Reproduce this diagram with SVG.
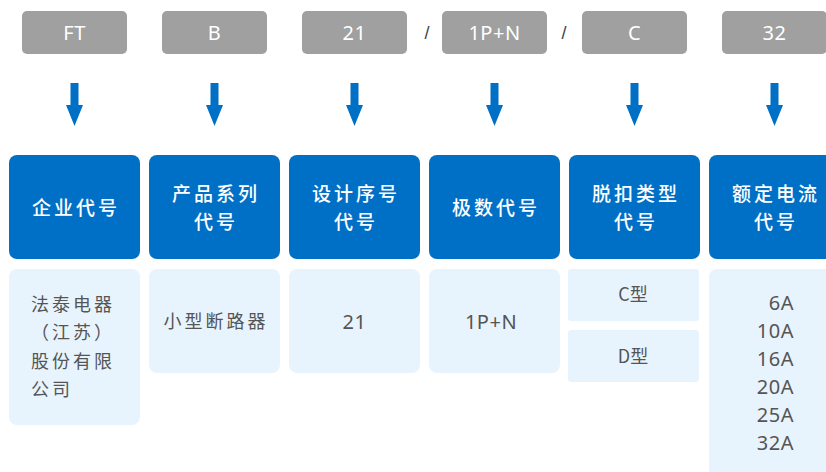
<svg xmlns="http://www.w3.org/2000/svg" width="826" height="472" viewBox="0 0 826 472">
<style>
.code rect{fill:#a0a0a0}
.code text{fill:#fff;font-family:"Noto Sans","Liberation Sans",sans-serif;font-size:20px;text-anchor:middle;letter-spacing:0.5px}
.hdr rect{fill:#0070c6}
.hdr text{fill:#fff;font-family:"Noto Sans CJK SC",sans-serif;font-size:19px;font-weight:500;text-anchor:middle;letter-spacing:3px}
.val rect{fill:#e8f4fd}
.val text{fill:#555;font-family:"Noto Sans CJK SC",sans-serif;font-size:18px;letter-spacing:3px}
.val text.n{font-family:"Noto Sans","Liberation Sans",sans-serif;font-size:20px;letter-spacing:0.5px}
.c{text-anchor:middle}
.r{text-anchor:end}
.sep{fill:#444;font-family:"Liberation Sans",sans-serif;font-size:18px}
.arr{fill:#0070c6}
</style>
<defs>
<path id="arrow" d="M-4,83 H4 V105 H8.5 L0,126 L-8.5,105 H-4 Z"/>
</defs>
<g id="code-FT" class="code"><rect x="22" y="11" width="105" height="43" rx="5"/><text x="74.5" y="40">FT</text></g>
<g id="code-B" class="code"><rect x="162" y="11" width="105" height="43" rx="5"/><text x="214.5" y="40">B</text></g>
<g id="code-21" class="code"><rect x="302" y="11" width="105" height="43" rx="5"/><text x="354.5" y="40">21</text></g>
<g id="code-1PN" class="code"><rect x="442" y="11" width="105" height="43" rx="5"/><text x="494.5" y="40">1P+N</text></g>
<g id="code-C" class="code"><rect x="582" y="11" width="105" height="43" rx="5"/><text x="634.5" y="40">C</text></g>
<g id="code-32" class="code"><rect x="722" y="11" width="105" height="43" rx="5"/><text x="774.5" y="40">32</text></g>
<text class="sep" x="427" y="39" text-anchor="middle">/</text>
<text class="sep" x="564" y="39" text-anchor="middle">/</text>
<g id="connectors" class="arr">
<use href="#arrow" x="74.5"/>
<use href="#arrow" x="214.5"/>
<use href="#arrow" x="354.5"/>
<use href="#arrow" x="494.5"/>
<use href="#arrow" x="634.5"/>
<use href="#arrow" x="774.5"/>
</g>
<g id="hdr-1" class="hdr"><rect x="9" y="155" width="131" height="104" rx="8"/><text x="76" y="214.5">企业代号</text></g>
<g id="hdr-2" class="hdr"><rect x="149" y="155" width="131" height="104" rx="8"/><text x="216" y="201">产品系列</text><text x="216" y="228.5">代号</text></g>
<g id="hdr-3" class="hdr"><rect x="289" y="155" width="131" height="104" rx="8"/><text x="356" y="201">设计序号</text><text x="356" y="228.5">代号</text></g>
<g id="hdr-4" class="hdr"><rect x="429" y="155" width="131" height="104" rx="8"/><text x="496" y="214.5">极数代号</text></g>
<g id="hdr-5" class="hdr"><rect x="569" y="155" width="131" height="104" rx="8"/><text x="636" y="201">脱扣类型</text><text x="636" y="228.5">代号</text></g>
<g id="hdr-6" class="hdr"><rect x="709" y="155" width="131" height="104" rx="8"/><text x="776" y="201">额定电流</text><text x="776" y="228.5">代号</text></g>
<g id="val-1" class="val"><rect x="9" y="269" width="131" height="156" rx="8"/>
<text x="31" y="311">法泰电器</text><text x="31" y="339">（江苏）</text><text x="31" y="368">股份有限</text><text x="31" y="396">公司</text></g>
<g id="val-2" class="val"><rect x="149" y="269" width="131" height="104" rx="8"/><text class="c" x="216" y="328">小型断路器</text></g>
<g id="val-3" class="val"><rect x="289" y="269" width="131" height="104" rx="8"/><text class="c n" x="354.5" y="329">21</text></g>
<g id="val-4" class="val"><rect x="429" y="269" width="131" height="104" rx="8"/><text class="c n" x="491" y="329">1P+N</text></g>
<g id="val-5a" class="val"><rect x="568" y="269" width="131" height="52" rx="3"/><text class="c" x="633" y="301" style="letter-spacing:0">C型</text></g>
<g id="val-5b" class="val"><rect x="568" y="330" width="131" height="52" rx="3"/><text class="c" x="633" y="363" style="letter-spacing:0">D型</text></g>
<g id="val-6" class="val"><rect x="709" y="269" width="131" height="220" rx="8"/>
<text class="r n" x="794" y="310">6A</text><text class="r n" x="794" y="338">10A</text><text class="r n" x="794" y="366">16A</text><text class="r n" x="794" y="394">20A</text><text class="r n" x="794" y="422">25A</text><text class="r n" x="794" y="450">32A</text></g>
</svg>
